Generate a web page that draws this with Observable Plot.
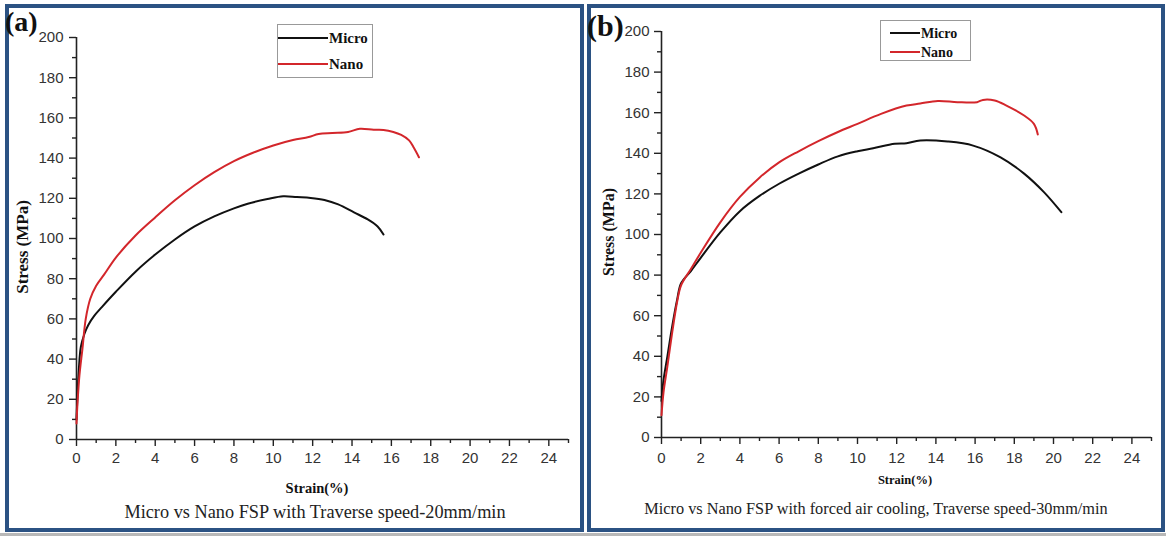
<!DOCTYPE html>
<html>
<head>
<meta charset="utf-8">
<script src="https://cdn.jsdelivr.net/npm/d3@7"></script>
<script src="https://cdn.jsdelivr.net/npm/@observablehq/plot@0.6"></script>
<style>
  html, body { margin: 0; padding: 0; background: #ffffff; }
  body { width: 1166px; height: 536px; position: relative; overflow: hidden; }
  .frame { position: absolute; box-sizing: border-box; border: 4px solid #2b5283; }
  .plot { position: absolute; }
  #overlay { position: absolute; left: 0; top: 0; }
</style>
</head>
<body>
<div class="frame" style="left:5px;top:4px;width:579px;height:528px;"></div>
<div class="frame" style="left:587px;top:4px;width:578px;height:528px;"></div>
<div style="position:absolute;left:0;top:533px;width:1166px;height:3px;background:#b8b8b8;"></div>
<div id="plotA" class="plot" style="left:8px;top:8px;"></div>
<div id="plotB" class="plot" style="left:590px;top:8px;"></div>
<svg id="overlay" width="1166" height="536"></svg>
<script>
// ---- data ----
const seriesNames = ["Micro", "Nano"];
const xTickValues = [0, 2, 4, 6, 8, 10, 12, 14, 16, 18, 20, 22, 24];
const xMinorValues = [1, 3, 5, 7, 9, 11, 13, 15, 17, 19, 21, 23, 25];
const yTickValues = [0, 20, 40, 60, 80, 100, 120, 140, 160, 180, 200];
const yMinorValues = [10, 30, 50, 70, 90, 110, 130, 150, 170, 190];

// Panel (a)
const microA_strain = [0, 0.05, 0.12, 0.22, 0.4, 0.6, 0.9, 1.3, 2.0, 3.0, 4.0, 5.0, 6.0, 7.0, 8.0, 8.7, 9.7, 10.5, 11.2, 11.9, 12.6, 13.3, 14.1, 14.8, 15.3, 15.6];
const microA_stress = [10, 22, 35, 46, 52.5, 57, 61.5, 66, 73.5, 83.5, 92, 99.5, 106, 111, 115, 117.3, 119.6, 121, 120.6, 120.2, 119.2, 117, 113, 109.5, 106, 102];
const nanoA_strain = [0, 0.05, 0.15, 0.3, 0.47, 0.7, 1.0, 1.4, 2.0, 3, 4, 5, 6, 7, 8, 9, 10, 11, 11.8, 12.3, 13, 13.8, 14.4, 15.1, 15.6, 16.1, 16.5, 16.9, 17.15, 17.4];
const nanoA_stress = [8, 18, 32, 45, 60, 70, 76.5, 82, 90.5, 101.5, 110.5, 119, 126.5, 133, 138.5, 142.8, 146.3, 149, 150.5, 152, 152.5, 153, 154.6, 154.1, 154, 153, 151.5, 148.8, 145, 140.4];

// Panel (b)
const microB_strain = [0, 0.1, 0.3, 0.55, 0.8, 1.0, 1.5, 2.0, 3.0, 4.0, 5, 6, 7, 8, 9, 10, 10.8, 11.9, 12.5, 13.2, 14.6, 15.9, 17.3, 18.5, 19.5, 20.4];
const microB_stress = [18, 28, 40, 55, 68, 76, 82, 88.5, 101, 111.5, 119, 125, 130, 134.5, 138.5, 141, 142.5, 144.7, 145, 146.3, 145.8, 143.8, 138, 130, 121, 111];
const nanoB_strain = [0, 0.1, 0.3, 0.55, 0.8, 1.0, 1.5, 2.0, 3.0, 4.0, 5, 6, 7, 8, 9, 10, 11.2, 12.5, 13.2, 14.1, 15.1, 16.1, 16.4, 17, 17.6, 18.5, 19, 19.2];
const nanoB_stress = [11, 22, 35, 52, 67, 75, 83, 91, 106, 118.5, 128, 135.5, 141, 146, 150.5, 154.5, 159.4, 163.5, 164.5, 165.8, 165.2, 165.2, 166.3, 166, 163.5, 158.6, 154.5, 149.3];

const captionA = "Micro vs Nano FSP with Traverse speed-20mm/min";
const captionB = "Micro vs Nano FSP with forced air cooling, Traverse speed-30mm/min";
const xTitle = "Strain(%)";
const yTitle = "Stress (MPa)";

const colors = { Micro: "#111111", Nano: "#d3262b" };

function toRows(strain, stress, name) {
  return strain.map((s, i) => ({ strain: s, stress: stress[i], series: name }));
}

function makePlot(opts, micro, nano) {
  const axisColor = "#222";
  return Plot.plot({
    width: opts.width,
    height: opts.height,
    marginLeft: opts.ml,
    marginRight: opts.mr,
    marginTop: opts.mt,
    marginBottom: opts.mb,
    style: { fontFamily: "'Liberation Sans', Arial, sans-serif", fontSize: "15px", color: "#333", background: "transparent" },
    x: { domain: [0, 25], nice: false },
    y: { domain: [0, 200], nice: false },
    marks: [
      Plot.axisX({ ticks: xTickValues, tickSize: 7, tickPadding: opts.xpad, stroke: axisColor, strokeWidth: 1.4, fill: "#333", fontSize: 15, label: null }),
      Plot.axisX({ ticks: xMinorValues, tickSize: 4, stroke: axisColor, strokeWidth: 1.4, fill: "none", label: null }),
      Plot.axisY({ ticks: yTickValues, tickSize: 7, tickPadding: opts.ypad, stroke: axisColor, strokeWidth: 1.4, fill: "#333", fontSize: 15, label: null }),
      Plot.axisY({ ticks: yMinorValues, tickSize: 4, stroke: axisColor, strokeWidth: 1.4, fill: "none", label: null }),
      Plot.ruleX([0], { stroke: axisColor, strokeWidth: 1.6 }),
      Plot.ruleY([0], { stroke: axisColor, strokeWidth: 1.6 }),
      Plot.line(micro, { x: "strain", y: "stress", stroke: colors.Micro, strokeWidth: 2, curve: "catmull-rom" }),
      Plot.line(nano, { x: "strain", y: "stress", stroke: colors.Nano, strokeWidth: 2, curve: "catmull-rom" })
    ]
  });
}

document.getElementById("plotA").appendChild(
  makePlot({ width: 574, height: 472, ml: 68, mr: 14, mt: 29, mb: 41, xpad: 6, ypad: 6 },
    toRows(microA_strain, microA_stress, "Micro"), toRows(nanoA_strain, nanoA_stress, "Nano"))
);
document.getElementById("plotB").appendChild(
  makePlot({ width: 572, height: 472, ml: 71, mr: 11, mt: 23, mb: 43, xpad: 8, ypad: 5 },
    toRows(microB_strain, microB_stress, "Micro"), toRows(nanoB_strain, nanoB_stress, "Nano"))
);

// ---- annotations (titles, captions, legends, panel letters) ----
const ov = d3.select("#overlay");
const serif = "'Liberation Serif', 'Times New Roman', serif";

function txt(x, y, s, size, weight, anchor, fill, rotate) {
  const t = ov.append("text")
    .attr("font-family", serif)
    .attr("font-size", size)
    .attr("font-weight", weight)
    .attr("text-anchor", anchor)
    .attr("fill", fill)
    .attr("dy", "0.35em")
    .text(s);
  if (rotate) t.attr("transform", `translate(${x},${y}) rotate(-90)`);
  else t.attr("x", x).attr("y", y);
  return t;
}

// panel letters
ov.append("text").attr("x", 5).attr("y", 31).attr("font-family", serif).attr("font-size", 28).attr("font-weight", "bold").attr("fill", "#111").text("(a)");
ov.append("text").attr("x", 587).attr("y", 36).attr("font-family", serif).attr("font-size", 30).attr("font-weight", "bold").attr("fill", "#111").text("(b)");

// axis titles
txt(317, 488, xTitle, 14.5, "bold", "middle", "#111");
txt(905, 480, xTitle, 12.5, "bold", "middle", "#111");
txt(22, 247, yTitle, 17, "bold", "middle", "#111", true);
txt(608, 232, yTitle, 16, "bold", "middle", "#111", true);

// captions
txt(315, 512, captionA, 18.3, "normal", "middle", "#222");
txt(876, 508, captionB, 16.3, "normal", "middle", "#222");

// legends
function legend(x, y, w, h, x1, x2, ys, size) {
  ov.append("rect").attr("x", x).attr("y", y).attr("width", w).attr("height", h)
    .attr("fill", "white").attr("stroke", "#999").attr("stroke-width", 1);
  seriesNames.forEach((name, i) => {
    ov.append("line").attr("x1", x1).attr("x2", x2).attr("y1", ys[i]).attr("y2", ys[i])
      .attr("stroke", colors[name]).attr("stroke-width", 2);
    txt(x2 + 1, ys[i], name, size, "bold", "start", "#111");
  });
}
legend(277.5, 24.5, 95, 53, 278, 328, [38, 64], 15);
legend(880.5, 20.5, 90, 40, 890, 920, [33, 52], 14);
</script>
</body>
</html>
